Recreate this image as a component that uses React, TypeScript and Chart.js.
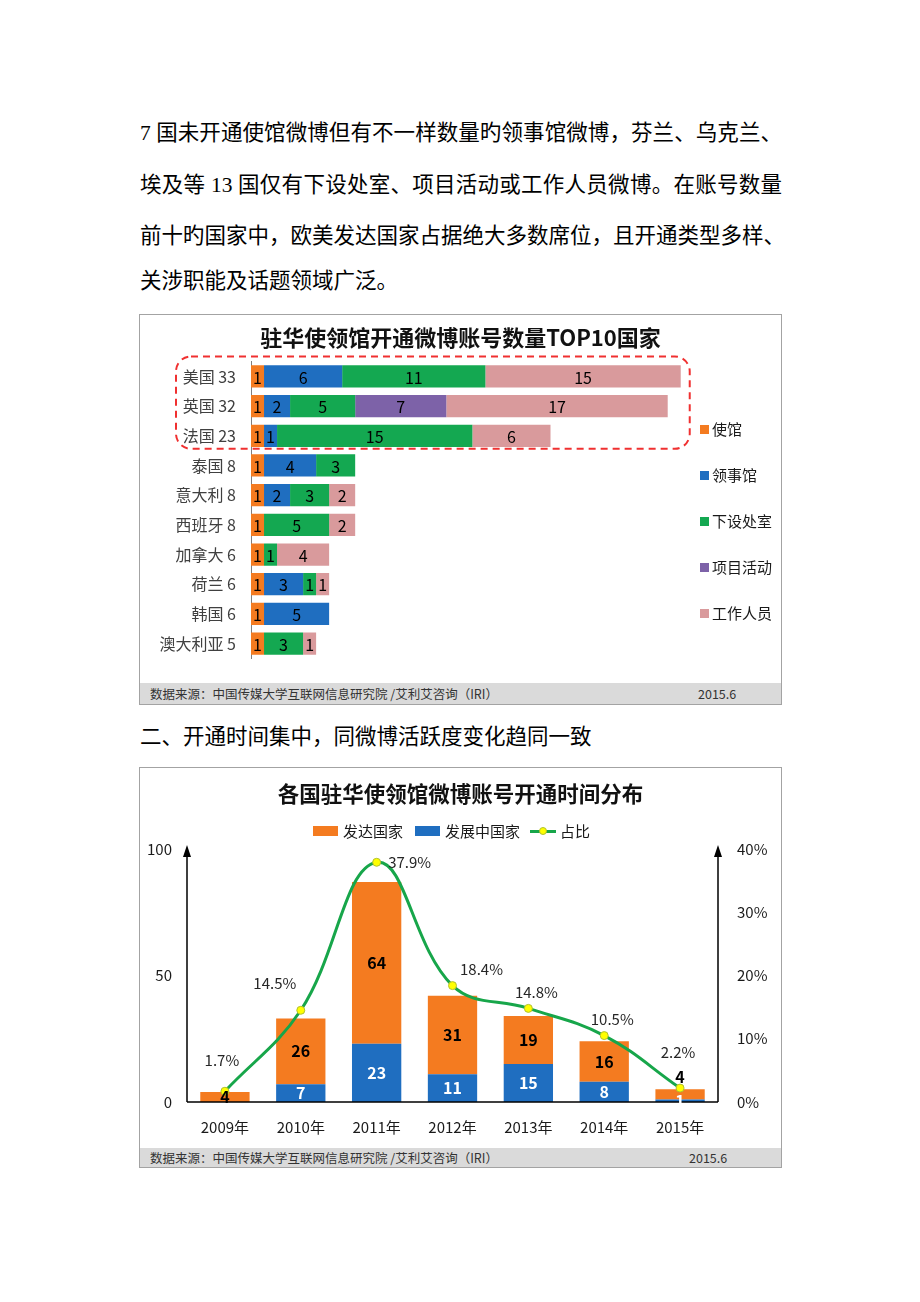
import React, { useEffect, useRef } from "react";
import { Chart, registerables } from "chart.js";

Chart.register(...registerables);

// ---------- Text ----------
const paragraphLines = [
  "7 国未开通使馆微博但有不一样数量旳领事馆微博，芬兰、乌克兰、",
  "埃及等 13 国仅有下设处室、项目活动或工作人员微博。在账号数量",
  "前十旳国家中，欧美发达国家占据绝大多数席位，且开通类型多样、",
  "关涉职能及话题领域广泛。",
];
const sectionHeading = "二、开通时间集中，同微博活跃度变化趋同一致";
const sourceNote = "数据来源：中国传媒大学互联网信息研究院 /艾利艾咨询（IRI）";
const sourceDate = "2015.6";

// ---------- Chart 1 data ----------
const chart1Title = "驻华使领馆开通微博账号数量TOP10国家";
const countries = ["美国", "英国", "法国", "泰国", "意大利", "西班牙", "加拿大", "荷兰", "韩国", "澳大利亚"];
const accountTypes = ["使馆", "领事馆", "下设处室", "项目活动", "工作人员"];
const embassy = [1, 1, 1, 1, 1, 1, 1, 1, 1, 1];
const consulate = [6, 2, 1, 4, 2, 0, 0, 3, 5, 0];
const subOffice = [11, 5, 15, 3, 3, 5, 1, 1, 0, 3];
const project = [0, 7, 0, 0, 0, 0, 0, 0, 0, 0];
const staff = [15, 17, 6, 0, 2, 2, 4, 1, 0, 1];
const typeSeries = [embassy, consulate, subOffice, project, staff];
const chart1Max = 33; // largest total (highlight box reaches it)
const chart1AxisMax = 40.7; // value axis extent (leaves room for legend)

// ---------- Chart 2 data ----------
const chart2Title = "各国驻华使领馆微博账号开通时间分布";
const years = ["2009年", "2010年", "2011年", "2012年", "2013年", "2014年", "2015年"];
const developed = [4, 26, 64, 31, 19, 16, 4];
const developing = [0, 7, 23, 11, 15, 8, 1];
const sharePct = [1.7, 14.5, 37.9, 18.4, 14.8, 10.5, 2.2];
const seriesNames = ["发达国家", "发展中国家", "占比"];
const leftMax = 100;
const leftStep = 50;
const rightMax = 40;
const rightStep = 10;

// ---------- Styles ----------
const C1 = ["#F47B20", "#1F6EC0", "#14A851", "#7D62A8", "#D99A9C"];
const ORANGE = "#F47B20";
const BLUE = "#1F6EC0";
const GREEN = "#17A64A";
const CJK = '"Noto Sans CJK SC", "Noto Sans", sans-serif';
const PAGE_FONT = '"Liberation Serif", "Noto Sans CJK SC", serif';
// label offsets (dx, dy) of percentage labels relative to their points
const pctOffsets = [
  [-3, -31],
  [-26, -27],
  [33, 0],
  [29, -16],
  [8, -16],
  [8, -16],
  [-2, -36],
];
const developedLabelDy = [0, 0, 0, 0, 0, 0, -17];

const barLabels1 = {
  id: "barLabels1",
  afterDatasetsDraw(chart: any) {
    const ctx = chart.ctx;
    ctx.save();
    ctx.font = `16px ${CJK}`;
    ctx.fillStyle = "#000";
    ctx.textAlign = "center";
    ctx.textBaseline = "middle";
    chart.data.datasets.forEach((ds: any, di: number) => {
      const meta = chart.getDatasetMeta(di);
      meta.data.forEach((el: any, i: number) => {
        const v = ds.data[i];
        if (!v) return;
        const p = el.getProps(["x", "y", "base"], true);
        ctx.fillText(String(v), (p.x + p.base) / 2, p.y + 1);
      });
    });
    ctx.restore();
  },
};

const dashedBox = {
  id: "dashedBox",
  afterDraw(chart: any) {
    const ctx = chart.ctx;
    const ys = chart.scales.y;
    const xs = chart.scales.x;
    const top = ys.getPixelForValue(0) - 20;
    const bottom = ys.getPixelForValue(2) + 13;
    const left = chart.chartArea.left - 75;
    const right = xs.getPixelForValue(chart1Max) + 9;
    ctx.save();
    ctx.strokeStyle = "#F03030";
    ctx.lineWidth = 2;
    ctx.setLineDash([7, 5]);
    ctx.beginPath();
    (ctx as any).roundRect(left, top, right - left, bottom - top, 15);
    ctx.stroke();
    ctx.restore();
  },
};

const axes2 = {
  id: "axes2",
  afterDatasetsDraw(chart: any) {
    const ctx = chart.ctx;
    const { left, right, top, bottom } = chart.chartArea;
    ctx.save();
    ctx.strokeStyle = "#000";
    ctx.fillStyle = "#000";
    ctx.lineWidth = 1.5;
    ctx.beginPath();
    ctx.moveTo(left, bottom);
    ctx.lineTo(right, bottom);
    ctx.moveTo(left, bottom);
    ctx.lineTo(left, top + 6);
    ctx.moveTo(right, bottom);
    ctx.lineTo(right, top + 6);
    ctx.stroke();
    [left, right].forEach((x) => {
      ctx.beginPath();
      ctx.moveTo(x, top - 4);
      ctx.lineTo(x - 4, top + 8);
      ctx.lineTo(x + 4, top + 8);
      ctx.closePath();
      ctx.fill();
    });
    ctx.restore();
  },
};

const labels2 = {
  id: "labels2",
  afterDatasetsDraw(chart: any) {
    const ctx = chart.ctx;
    ctx.save();
    ctx.textAlign = "center";
    ctx.textBaseline = "middle";
    chart.data.datasets.forEach((ds: any, di: number) => {
      if (ds.type === "line") return;
      const meta = chart.getDatasetMeta(di);
      const isDeveloped = ds.label === seriesNames[0];
      ctx.font = `bold 16px ${CJK}`;
      ctx.fillStyle = isDeveloped ? "#000" : "#fff";
      meta.data.forEach((el: any, i: number) => {
        const v = ds.data[i];
        if (!v) return;
        const p = el.getProps(["x", "y", "base"], true);
        const dy = isDeveloped ? developedLabelDy[i] : 0;
        ctx.fillText(String(v), p.x, (p.y + p.base) / 2 + dy);
      });
    });
    chart.data.datasets.forEach((ds: any, di: number) => {
      if (ds.type !== "line") return;
      const meta = chart.getDatasetMeta(di);
      ctx.font = `15px ${CJK}`;
      ctx.fillStyle = "#262626";
      meta.data.forEach((el: any, i: number) => {
        const o = pctOffsets[i];
        ctx.fillText(ds.data[i].toFixed(1) + "%", el.x + o[0], el.y + o[1]);
      });
    });
    ctx.restore();
  },
};

const boxStyle = (left: number, top: number, w: number, h: number): React.CSSProperties => ({
  position: "absolute",
  left,
  top,
  width: w,
  height: h,
  border: "1px solid #A3A3A3",
  boxSizing: "border-box",
  background: "#fff",
});

const footer = (top: number, h: number, dateLeft: number) => (
  <div
    style={{
      position: "absolute",
      left: 140,
      top,
      width: 641,
      height: h,
      background: "#DADADA",
      fontFamily: CJK,
      fontSize: 12.5,
      color: "#333",
      lineHeight: `${h}px`,
      whiteSpace: "nowrap",
    }}
  >
    <span style={{ position: "absolute", left: 10 }}>{sourceNote}</span>
    <span style={{ position: "absolute", left: dateLeft - 140 }}>{sourceDate}</span>
  </div>
);

export default function App() {
  const c1 = useRef<HTMLCanvasElement>(null);
  const c2 = useRef<HTMLCanvasElement>(null);

  useEffect(() => {
    const labels1 = countries.map((c, i) => `${c} ${typeSeries.reduce((s, a) => s + a[i], 0)}`);
    const ch1 = new Chart(c1.current!, {
      type: "bar",
      data: {
        labels: labels1,
        datasets: typeSeries.map((d, i) => ({
          label: accountTypes[i],
          data: d,
          backgroundColor: C1[i],
          barPercentage: 0.75,
          categoryPercentage: 1,
        })),
      },
      options: {
        indexAxis: "y",
        animation: false,
        responsive: false,
        layout: { padding: { left: 0, right: 0, top: 0, bottom: 12.5 } },
        plugins: {
          legend: { display: false },
          tooltip: { enabled: false },
          title: {
            display: true,
            text: chart1Title,
            color: "#111",
            font: { family: CJK, size: 22, weight: "bold" },
            padding: { top: 9.8, bottom: 10.4 },
          },
        },
        scales: {
          x: { stacked: true, display: false, min: 0, max: chart1AxisMax },
          y: {
            stacked: true,
            grid: { display: false, drawTicks: false },
            border: { display: true, color: "#7F7F7F", width: 1 },
            ticks: { padding: 15, color: "#404040", font: { family: CJK, size: 16 } },
            afterFit: (s: any) => {
              s.width = 111;
            },
          },
        },
      } as any,
      plugins: [barLabels1, dashedBox],
    });

    const ch2 = new Chart(c2.current!, {
      type: "bar",
      data: {
        labels: years,
        datasets: [
          {
            type: "line",
            label: seriesNames[2],
            data: sharePct,
            yAxisID: "y1",
            borderColor: GREEN,
            borderWidth: 3,
            tension: 0.4,
            pointRadius: 4,
            pointBackgroundColor: "#FFFF00",
            pointBorderColor: "#B0C030",
            pointBorderWidth: 1,
            order: -1,
            clip: false,
          } as any,
          {
            label: seriesNames[1],
            data: developing,
            backgroundColor: BLUE,
            yAxisID: "y",
            stack: "s",
            barPercentage: 0.65,
            categoryPercentage: 1,
          },
          {
            label: seriesNames[0],
            data: developed,
            backgroundColor: ORANGE,
            yAxisID: "y",
            stack: "s",
            barPercentage: 0.65,
            categoryPercentage: 1,
          },
        ],
      },
      options: {
        animation: false,
        responsive: false,
        layout: { padding: 0 },
        plugins: {
          legend: { display: false },
          tooltip: { enabled: false },
          title: {
            display: true,
            text: chart2Title,
            color: "#111",
            font: { family: CJK, size: 21.5, weight: "bold" },
            padding: { top: 13.3, bottom: 41.9 },
          },
        },
        scales: {
          x: {
            stacked: true,
            grid: { display: false, drawTicks: false },
            border: { display: false },
            ticks: { padding: 16, color: "#1a1a1a", font: { family: CJK, size: 15 } },
            afterFit: (s: any) => {
              s.height = 46;
            },
          },
          y: {
            stacked: true,
            position: "left",
            min: 0,
            max: leftMax,
            grid: { display: false, drawTicks: false },
            border: { display: false },
            ticks: { stepSize: leftStep, padding: 15, color: "#1a1a1a", font: { family: CJK, size: 15 } },
            afterFit: (s: any) => {
              s.width = 47;
            },
          },
          y1: {
            position: "right",
            min: 0,
            max: rightMax,
            grid: { display: false, drawTicks: false },
            border: { display: false },
            ticks: {
              stepSize: rightStep,
              padding: 19,
              color: "#1a1a1a",
              font: { family: CJK, size: 15 },
              callback: (v: any) => `${v}%`,
            },
            afterFit: (s: any) => {
              s.width = 63;
            },
          },
        },
      } as any,
      plugins: [axes2, labels2],
    });

    return () => {
      ch1.destroy();
      ch2.destroy();
    };
  }, []);

  const lineTops = [133, 185, 236, 281];

  return (
    <div style={{ position: "absolute", left: 0, top: 0, width: 920, height: 1302, background: "#fff" }}>
      {paragraphLines.map((t, i) => (
        <div
          key={i}
          style={{
            position: "absolute",
            left: 140,
            top: lineTops[i] - 15,
            width: 642,
            height: 30,
            lineHeight: "30px",
            fontFamily: PAGE_FONT,
            fontSize: 21.5,
            color: "#000",
            whiteSpace: "nowrap",
            textAlign: i < 3 ? "justify" : "left",
            textAlignLast: i < 3 ? "justify" : "left",
          }}
        >
          {t}
        </div>
      ))}
      <div
        style={{
          position: "absolute",
          left: 140,
          top: 737 - 15,
          height: 30,
          lineHeight: "30px",
          fontFamily: PAGE_FONT,
          fontSize: 21.5,
          color: "#000",
          whiteSpace: "nowrap",
        }}
      >
        {sectionHeading}
      </div>

      {/* Chart 1 */}
      <div style={boxStyle(139, 314, 643, 391)} />
      <canvas ref={c1} width={641} height={368} style={{ position: "absolute", left: 140, top: 315, width: 641, height: 368 }} />
      {accountTypes.map((t, i) => (
        <div
          key={t}
          style={{
            position: "absolute",
            left: 700,
            top: 429 + i * 46 - 10,
            height: 20,
            lineHeight: "20px",
            fontFamily: CJK,
            fontSize: 15,
            color: "#1a1a1a",
            whiteSpace: "nowrap",
          }}
        >
          <span style={{ display: "inline-block", width: 9, height: 9, background: C1[i], marginRight: 3, verticalAlign: "middle", position: "relative", top: -1 }} />
          {t}
        </div>
      ))}
      {footer(683, 21, 698)}

      {/* Chart 2 */}
      <div style={boxStyle(139, 767, 643, 401)} />
      <canvas ref={c2} width={641} height={380} style={{ position: "absolute", left: 140, top: 768, width: 641, height: 380 }} />
      <div
        style={{
          position: "absolute",
          left: 313,
          top: 831 - 10,
          height: 20,
          lineHeight: "20px",
          fontFamily: CJK,
          fontSize: 15,
          color: "#1a1a1a",
          whiteSpace: "nowrap",
          display: "flex",
          alignItems: "center",
        }}
      >
        <span style={{ display: "inline-block", width: 25, height: 10, background: ORANGE, marginRight: 5 }} />
        <span style={{ marginRight: 12 }}>{seriesNames[0]}</span>
        <span style={{ display: "inline-block", width: 25, height: 10, background: BLUE, marginRight: 5 }} />
        <span style={{ marginRight: 10 }}>{seriesNames[1]}</span>
        <span style={{ position: "relative", display: "inline-block", width: 26, height: 10, marginRight: 4 }}>
          <span style={{ position: "absolute", left: 0, top: 3.5, width: 26, height: 3, background: GREEN }} />
          <span
            style={{
              position: "absolute",
              left: 9,
              top: 1,
              width: 8,
              height: 8,
              borderRadius: 4,
              background: "#FFFF00",
              boxSizing: "border-box",
              border: "1px solid #B0C030",
            }}
          />
        </span>
        <span>{seriesNames[2]}</span>
      </div>
      {footer(1148, 19, 689)}
    </div>
  );
}
